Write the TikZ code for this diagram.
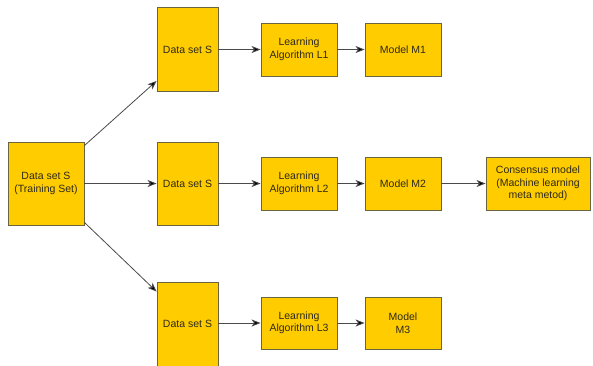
\documentclass[tikz,border=0pt]{standalone}
\usepackage{fontspec}
\setmainfont{Liberation Sans}
\usetikzlibrary{arrows.meta}
\definecolor{boxfill}{HTML}{FFCC00}
\definecolor{boxline}{HTML}{6B6440}
\definecolor{txt}{HTML}{2E2A1A}
\definecolor{wire}{HTML}{4A4A4A}
\tikzset{
  box/.style={draw=boxline, line width=0.9pt, fill=boxfill, inner sep=0pt,
    align=center, text=txt, font=\fontsize{10.5}{12.5}\selectfont},
  wirearrow/.style={draw=wire, line width=0.8pt,
    -{Stealth[length=9pt,width=7pt,inset=2.5pt,fill=black]}}
}
\begin{document}
\begin{tikzpicture}[x=1pt,y=-1pt]
  \useasboundingbox (0,0) rectangle (593,365);
  % source data set
  \node[box, minimum width=76pt, minimum height=83pt] (src) at (46,183.5)
    {Data set S\\(Training Set)};
  % resampled data sets
  \node[box, minimum width=61pt, minimum height=84pt] (d1) at (187.5,49.5) {Data set S};
  \node[box, minimum width=61pt, minimum height=83pt] (d2) at (187.5,183.5) {Data set S};
  \node[box, minimum width=61pt, minimum height=84pt] (d3) at (187.5,324) {Data set S};
  % learning algorithms
  \node[box, minimum width=76pt, minimum height=53pt] (l1) at (299,49.5) {Learning\\Algorithm L1};
  \node[box, minimum width=76pt, minimum height=53pt] (l2) at (299,183.5) {Learning\\Algorithm L2};
  \node[box, minimum width=76pt, minimum height=52pt] (l3) at (299,323) {Learning\\Algorithm L3};
  % trained models
  \node[box, minimum width=76pt, minimum height=53pt] (m1) at (403,49.5) {Model M1};
  \node[box, minimum width=76pt, minimum height=53pt] (m2) at (403,183.5) {Model M2};
  \node[box, minimum width=76pt, minimum height=52pt] (m3) at (403,323) {Model\\M3};
  % consensus
  \node[box, minimum width=104pt, minimum height=53pt] (cons) at (538,183.5)
    {Consensus model\\(Machine learning\\meta metod)};
  % connectors
  \draw[wirearrow] ([yshift=-4pt]src.north east) -- ([yshift=11pt]d1.south west);
  \draw[wirearrow] (src.east) -- (d2.west);
  \draw[wirearrow] ([yshift=3pt]src.south east) -- ([yshift=-10pt]d3.north west);
  \draw[wirearrow] (d1.east) -- (l1.west);
  \draw[wirearrow] (d2.east) -- (l2.west);
  \draw[wirearrow] (d3.east |- l3.west) -- (l3.west);
  \draw[wirearrow] (l1.east) -- (m1.west);
  \draw[wirearrow] (l2.east) -- (m2.west);
  \draw[wirearrow] (l3.east) -- (m3.west);
  \draw[wirearrow] (m2.east) -- (cons.west);
\end{tikzpicture}
\end{document}
